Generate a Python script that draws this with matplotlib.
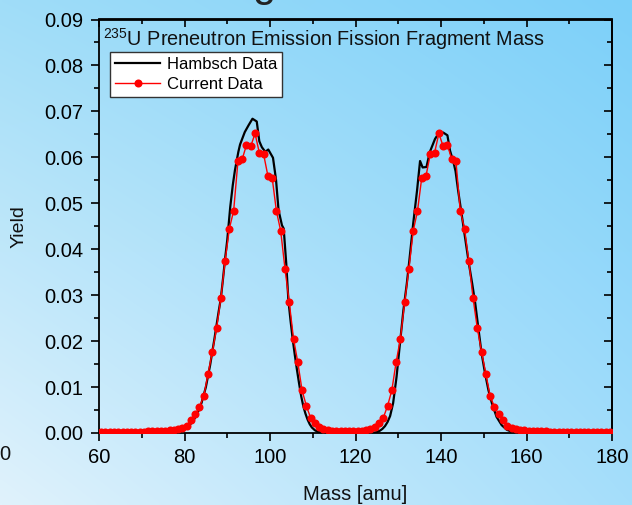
import numpy as np
import matplotlib
matplotlib.use('Agg')
import matplotlib.pyplot as plt
from matplotlib.ticker import MultipleLocator, FormatStrFormatter

plt.rcParams['font.family'] = ['Liberation Sans', 'DejaVu Sans']
plt.rcParams['mathtext.fontset'] = 'custom'
plt.rcParams['mathtext.rm'] = 'Liberation Sans'
plt.rcParams['mathtext.it'] = 'Liberation Sans'

# ---------------- data ----------------
cur_mass = np.arange(60.5, 180.0, 1.0)
cur_yield = [
    0.0003, 0.0002, 0.0003, 0.0003, 0.0003, 0.0003, 0.0003, 0.0003, 0.0003, 0.0003,
    0.0003, 0.0004, 0.0004, 0.0004, 0.0005, 0.0005, 0.0006, 0.0007, 0.0009, 0.0011,
    0.0015, 0.0028, 0.0041, 0.0057, 0.0080, 0.0128, 0.0176, 0.0228, 0.0293, 0.0375,
    0.0445, 0.0484, 0.0591, 0.0596, 0.0627, 0.0624, 0.0652, 0.0610, 0.0607, 0.0560,
    0.0556, 0.0483, 0.0440, 0.0358, 0.0285, 0.0205, 0.0154, 0.0093, 0.0059, 0.0033,
    0.0021, 0.0012, 0.0008, 0.0006, 0.0005, 0.0005, 0.0005, 0.0005, 0.0005, 0.0005,
    0.0005, 0.0005, 0.0006, 0.0008, 0.0012, 0.0021, 0.0033, 0.0059, 0.0093, 0.0154,
    0.0205, 0.0285, 0.0358, 0.0440, 0.0483, 0.0556, 0.0560, 0.0607, 0.0610, 0.0652,
    0.0624, 0.0627, 0.0596, 0.0591, 0.0484, 0.0445, 0.0375, 0.0293, 0.0228, 0.0176,
    0.0128, 0.0080, 0.0057, 0.0041, 0.0028, 0.0015, 0.0011, 0.0009, 0.0007, 0.0006,
    0.0005, 0.0005, 0.0004, 0.0004, 0.0004, 0.0003, 0.0003, 0.0003, 0.0003, 0.0003,
    0.0003, 0.0003, 0.0003, 0.0003, 0.0003, 0.0003, 0.0002, 0.0003, 0.0003, 0.0003,
]

ham_mass = [
    60, 76, 77, 78, 79, 80, 81, 82, 83, 84, 85, 86, 87, 88, 88.5, 89, 89.5, 90,
    90.7, 91.3, 91.8, 92.6, 93.0, 94.1, 95.0, 95.9, 96.9, 97.5, 98.1, 98.9, 99.6,
    100.7, 101.4, 102.0, 102.8, 103.2, 103.8, 104.3, 104.8, 105.3, 105.8, 106.3,
    106.8, 107.3, 107.8, 108.3, 108.8, 109.3, 109.8, 110.5, 111.3, 112, 113,
    124, 125, 125.7, 126.3, 126.9, 127.5, 128.1, 128.8, 129.6, 130.4, 131.2,
    132.0, 132.6, 133.5, 134.4, 135.1, 135.7, 136.6, 137.4, 138.6, 139.5, 140.5,
    141.5, 142.1, 142.9, 143.4, 144.0, 144.8, 145.6, 146.5, 147.3, 148.0, 148.7,
    149.5, 150.3, 151.1, 151.9, 153.0, 154.2, 155.4, 156.5, 158, 159, 180,
]
ham_yield = [
    0.0, 0.0, 0.0001, 0.0002, 0.0004, 0.0008, 0.0015, 0.0026, 0.0042, 0.0066,
    0.0100, 0.0148, 0.0205, 0.0265, 0.0293, 0.0335, 0.0380, 0.0420,
    0.0492, 0.0540, 0.0572, 0.0612, 0.0628, 0.0655, 0.0670, 0.0684, 0.0678,
    0.0635, 0.0622, 0.0612, 0.0617,
    0.0599, 0.0552, 0.0485, 0.0452, 0.0445, 0.0369, 0.0289, 0.0245, 0.0205,
    0.0170, 0.0138, 0.0108, 0.0080, 0.0058, 0.0042, 0.0029, 0.0019, 0.0012,
    0.0006, 0.0002, 0.0001, 0.0,
    0.0, 0.0002, 0.0005, 0.0009, 0.0015, 0.0024, 0.0037, 0.0065, 0.0122, 0.0195,
    0.0267, 0.0325, 0.0376, 0.0456, 0.0528, 0.0592, 0.0578, 0.0579, 0.0612,
    0.0640, 0.0653, 0.0654, 0.0648, 0.0615, 0.0590, 0.0570, 0.0528, 0.0478,
    0.0427, 0.0370, 0.0325, 0.0283, 0.0231, 0.0173, 0.0130, 0.0093, 0.0065,
    0.0035, 0.0017, 0.0007, 0.0003, 0.0001, 0.0, 0.0,
]

x_ticks = [60, 80, 100, 120, 140, 160, 180]
y_ticks = [0.00, 0.01, 0.02, 0.03, 0.04, 0.05, 0.06, 0.07, 0.08, 0.09]

# ---------------- figure ----------------
W, H = 632, 505
fig = plt.figure(figsize=(W / 100, H / 100), dpi=100)

# background gradient
bg = fig.add_axes([0, 0, 1, 1], zorder=-10)
bg.set_axis_off()
u = np.linspace(0, 1, 200)[None, :]
v = np.linspace(0, 1, 160)[:, None]  # 0 = top, 1 = bottom
tl = np.array([160, 221, 248]) / 255
tr = np.array([124, 208, 250]) / 255
bl = np.array([224, 242, 252]) / 255
br = np.array([165, 222, 250]) / 255
img = ((1 - u)[..., None] * (1 - v)[..., None] * tl + u[..., None] * (1 - v)[..., None] * tr
       + (1 - u)[..., None] * v[..., None] * bl + u[..., None] * v[..., None] * br)
bg.imshow(img, aspect='auto', extent=[0, 1, 0, 1], interpolation='bilinear')
bg.set_xlim(0, 1)
bg.set_ylim(0, 1)

left, right, bottom, top = 99 / W, 612 / W, 1 - 433 / H, 1 - 19.5 / H
ax = fig.add_axes([left, bottom, right - left, top - bottom])
ax.set_facecolor('none')

ax.plot(ham_mass, ham_yield, color='black', lw=1.6, label='Hambsch Data', zorder=3)
ax.plot(cur_mass, cur_yield, color='#ff0000', lw=1.0, marker='o', markersize=5.8,
        markeredgewidth=0, label='Current Data', zorder=4)

ax.set_xlim(60, 180)
ax.set_ylim(0, 0.09)
ax.set_xticks(x_ticks)
ax.set_yticks(y_ticks)
ax.xaxis.set_minor_locator(MultipleLocator(10))
ax.yaxis.set_minor_locator(MultipleLocator(0.005))
ax.yaxis.set_major_formatter(FormatStrFormatter('%.2f'))
ax.tick_params(which='major', direction='out', length=6, width=1.2, labelsize=14.5,
               pad=5, colors='black')
ax.tick_params(which='minor', direction='out', length=3.5, width=1.2)
for s in ax.spines.values():
    s.set_linewidth(1.3)

secx = ax.secondary_xaxis('top')
secx.set_xticks(x_ticks)
secx.xaxis.set_minor_locator(MultipleLocator(10))
secx.tick_params(which='major', direction='in', length=6, width=1.2, labeltop=False)
secx.tick_params(which='minor', direction='in', length=3.5, width=1.2)
secx.spines['top'].set_linewidth(1.3)

secy = ax.secondary_yaxis('right')
secy.set_yticks(y_ticks)
secy.yaxis.set_minor_locator(MultipleLocator(0.005))
secy.tick_params(which='major', direction='in', length=6, width=1.2, labelright=False)
secy.tick_params(which='minor', direction='in', length=3.5, width=1.2)
secy.spines['right'].set_linewidth(1.3)

ax.set_xlabel('Mass [amu]', fontsize=14.5, labelpad=13, color='#111111')
ax.set_ylabel('Yield', fontsize=14, labelpad=12, color='#111111')

ax.text(0.007, 0.983, r'$^{235}$U Preneutron Emission Fission Fragment Mass',
        transform=ax.transAxes, fontsize=14.3, va='top', ha='left', color='#111111')

leg = ax.legend(loc='upper left', bbox_to_anchor=(11 / 513, 1 - 32.5 / 413.5),
                borderaxespad=0, fontsize=12, frameon=True, fancybox=False,
                framealpha=1, edgecolor='#333333', handlelength=2.7,
                handletextpad=0.4, borderpad=0.3, labelspacing=0.3)
leg.get_frame().set_linewidth(1.0)

# cut-off fragments of neighbouring slide text
fig.text(10 / W, 1 - 455 / H, '0', fontsize=14.5, ha='right', va='center', color='#111111')
fig.text(252 / W, 1 + 4 / H, 'g', fontsize=30, ha='left', va='baseline', color='#222222')

fig.savefig('out.png', dpi=100)
